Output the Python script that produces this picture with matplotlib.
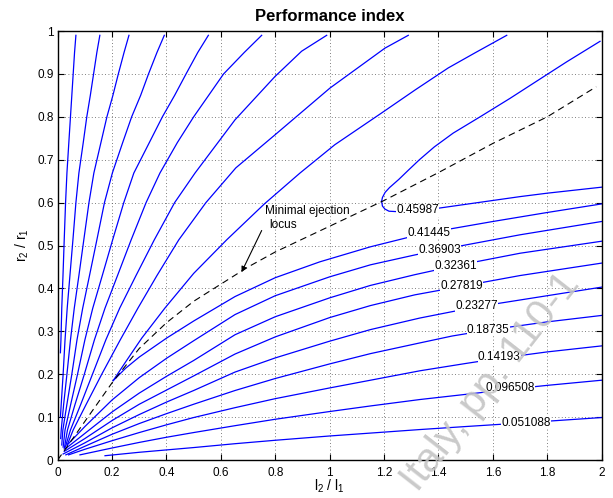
import matplotlib
matplotlib.use("Agg")
import matplotlib.pyplot as plt

plt.rcParams['font.family'] = ['Liberation Sans', 'DejaVu Sans']
plt.rcParams['mathtext.fontset'] = 'custom'
plt.rcParams['mathtext.rm'] = 'Liberation Sans'
plt.rcParams['mathtext.it'] = 'Liberation Sans'

# contour levels (labelled values)
levels = [0.051088, 0.096508, 0.14193, 0.18735, 0.23277,
          0.27819, 0.32361, 0.36903, 0.41445, 0.45987]
level_labels = ["0.051088", "0.096508", "0.14193", "0.18735", "0.23277",
                "0.27819", "0.32361", "0.36903", "0.41445", "0.45987"]

# upper branches (x, y), top -> origin side
upper_x = [
    [0.067, 0.062, 0.057, 0.052, 0.047, 0.041, 0.034, 0.029, 0.024, 0.0195, 0.015, 0.012, 0.010],
    [0.155, 0.144, 0.132, 0.120, 0.107, 0.094, 0.078, 0.067, 0.056, 0.045, 0.035, 0.027, 0.020, 0.013, 0.010],
    [0.262, 0.244, 0.223, 0.203, 0.181, 0.159, 0.133, 0.115, 0.096, 0.078, 0.061, 0.047, 0.034, 0.022, 0.013, 0.011],
    [0.392, 0.365, 0.334, 0.305, 0.272, 0.239, 0.201, 0.172, 0.144, 0.117, 0.092, 0.071, 0.052, 0.034, 0.019, 0.015],
    [0.554, 0.515, 0.472, 0.430, 0.385, 0.337, 0.280, 0.243, 0.202, 0.164, 0.129, 0.100, 0.073, 0.048, 0.027, 0.020],
    [0.750, 0.686, 0.610, 0.555, 0.500, 0.440, 0.376, 0.325, 0.270, 0.220, 0.174, 0.135, 0.098, 0.064, 0.036, 0.024],
    [0.989, 0.897, 0.799, 0.652, 0.505, 0.430, 0.355, 0.288, 0.228, 0.177, 0.128, 0.085, 0.047, 0.028],
    [1.289, 1.203, 1.001, 0.799, 0.655, 0.545, 0.445, 0.365, 0.295, 0.230, 0.162, 0.105, 0.057, 0.035],
    [1.651, 1.534, 1.436, 1.315, 1.191, 1.019, 0.891, 0.760, 0.621, 0.500, 0.394, 0.309, 0.247, 0.204],
    [1.994, 1.871, 1.773, 1.663, 1.553, 1.454, 1.385, 1.330, 1.290, 1.254, 1.220, 1.204, 1.194, 1.191],
]
upper_y = [
    [0.990, 0.950, 0.900, 0.850, 0.800, 0.740, 0.669, 0.600, 0.513, 0.430, 0.354, 0.280, 0.250],
    [0.990, 0.950, 0.900, 0.850, 0.800, 0.740, 0.669, 0.600, 0.513, 0.430, 0.354, 0.280, 0.200, 0.130, 0.100],
    [0.990, 0.950, 0.900, 0.850, 0.800, 0.740, 0.669, 0.600, 0.513, 0.430, 0.354, 0.280, 0.200, 0.130, 0.070, 0.050],
    [0.990, 0.950, 0.900, 0.850, 0.800, 0.740, 0.669, 0.600, 0.513, 0.430, 0.354, 0.280, 0.200, 0.130, 0.070, 0.035],
    [0.990, 0.950, 0.900, 0.850, 0.800, 0.740, 0.669, 0.600, 0.513, 0.430, 0.354, 0.280, 0.200, 0.130, 0.070, 0.030],
    [0.990, 0.950, 0.900, 0.850, 0.800, 0.740, 0.669, 0.600, 0.513, 0.430, 0.354, 0.280, 0.200, 0.130, 0.070, 0.026],
    [0.990, 0.953, 0.894, 0.793, 0.669, 0.600, 0.513, 0.430, 0.354, 0.280, 0.200, 0.130, 0.070, 0.030],
    [0.990, 0.960, 0.867, 0.758, 0.681, 0.600, 0.513, 0.430, 0.354, 0.280, 0.200, 0.130, 0.070, 0.035],
    [0.990, 0.949, 0.914, 0.863, 0.809, 0.735, 0.669, 0.597, 0.513, 0.435, 0.354, 0.284, 0.226, 0.185],
    [0.976, 0.928, 0.888, 0.843, 0.800, 0.762, 0.730, 0.700, 0.676, 0.654, 0.635, 0.624, 0.612, 0.603],
]

# lower branches (x, y), origin side -> right edge
lower_x = [
    [0.174, 0.300, 0.500, 0.652, 0.800, 1.000, 1.200, 1.332, 1.500, 1.721, 2.000],
    [0.082, 0.200, 0.300, 0.400, 0.500, 0.652, 0.800, 1.000, 1.150, 1.332, 1.500, 1.663, 1.800, 2.000],
    [0.040, 0.100, 0.200, 0.300, 0.400, 0.500, 0.652, 0.800, 1.000, 1.150, 1.332, 1.500, 1.623, 1.800, 2.000],
    [0.030, 0.100, 0.200, 0.300, 0.400, 0.500, 0.652, 0.800, 1.000, 1.150, 1.332, 1.450, 1.583, 1.800, 2.000],
    [0.020, 0.100, 0.200, 0.300, 0.400, 0.500, 0.652, 0.800, 1.000, 1.150, 1.332, 1.540, 1.800, 2.000],
    [0.024, 0.100, 0.200, 0.300, 0.400, 0.500, 0.652, 0.800, 1.000, 1.150, 1.313, 1.485, 1.700, 2.000],
    [0.028, 0.100, 0.200, 0.300, 0.400, 0.500, 0.652, 0.800, 1.000, 1.150, 1.313, 1.464, 1.700, 2.000],
    [0.035, 0.100, 0.200, 0.300, 0.400, 0.500, 0.652, 0.800, 1.000, 1.150, 1.313, 1.405, 1.700, 2.000],
    [0.204, 0.250, 0.300, 0.400, 0.500, 0.652, 0.800, 0.964, 1.150, 1.289, 1.365, 1.600, 1.800, 2.000],
    [1.191, 1.194, 1.203, 1.218, 1.246, 1.300, 1.400, 1.500, 1.600, 1.700, 1.800, 1.900, 2.000],
]
lower_y = [
    [0.010, 0.018, 0.029, 0.038, 0.046, 0.056, 0.065, 0.071, 0.078, 0.087, 0.099],
    [0.012, 0.028, 0.041, 0.053, 0.064, 0.080, 0.095, 0.113, 0.126, 0.141, 0.153, 0.165, 0.174, 0.186],
    [0.012, 0.025, 0.045, 0.064, 0.082, 0.099, 0.122, 0.143, 0.168, 0.186, 0.208, 0.225, 0.237, 0.252, 0.266],
    [0.012, 0.032, 0.060, 0.085, 0.108, 0.130, 0.162, 0.190, 0.224, 0.248, 0.273, 0.289, 0.303, 0.322, 0.337],
    [0.014, 0.040, 0.075, 0.106, 0.135, 0.162, 0.205, 0.238, 0.277, 0.304, 0.331, 0.357, 0.383, 0.403],
    [0.020, 0.050, 0.092, 0.130, 0.163, 0.196, 0.247, 0.287, 0.332, 0.360, 0.385, 0.405, 0.430, 0.459],
    [0.026, 0.062, 0.112, 0.156, 0.195, 0.232, 0.292, 0.334, 0.378, 0.407, 0.432, 0.453, 0.482, 0.510],
    [0.035, 0.078, 0.140, 0.192, 0.237, 0.278, 0.339, 0.383, 0.427, 0.455, 0.478, 0.490, 0.525, 0.556],
    [0.185, 0.214, 0.240, 0.284, 0.324, 0.381, 0.425, 0.462, 0.497, 0.519, 0.530, 0.556, 0.577, 0.597],
    [0.603, 0.592, 0.585, 0.580, 0.579, 0.580, 0.587, 0.596, 0.605, 0.614, 0.622, 0.629, 0.636],
]

# label positions
label_x = [1.721, 1.663, 1.623, 1.583, 1.540, 1.485, 1.464, 1.405, 1.365, 1.323]
label_y = [0.087, 0.167, 0.239, 0.303, 0.358, 0.405, 0.453, 0.490, 0.530, 0.582]

# minimal ejection locus (dashed)
locus_x = [0.0, 0.1, 0.2, 0.3, 0.4, 0.5, 0.6, 0.7, 0.8, 1.0, 1.2, 1.4, 1.6, 1.8, 1.98]
locus_y = [0.0, 0.09, 0.18, 0.26, 0.32, 0.37, 0.41, 0.45, 0.485, 0.545, 0.605, 0.67, 0.738, 0.80, 0.87]

xticks = [0, 0.2, 0.4, 0.6, 0.8, 1, 1.2, 1.4, 1.6, 1.8, 2]
yticks = [0, 0.1, 0.2, 0.3, 0.4, 0.5, 0.6, 0.7, 0.8, 0.9, 1]

fig = plt.figure(figsize=(6.13, 4.98), dpi=100)
ax = fig.add_axes([0.0941, 0.0763, 0.8874, 0.8614])

for i in range(len(levels)):
    ax.plot(upper_x[i], upper_y[i], color='#0000ff', lw=0.9)
    ax.plot(lower_x[i], lower_y[i], color='#0000ff', lw=0.9)
    ax.text(label_x[i], label_y[i], level_labels[i], fontsize=8.5,
            ha='center', va='center', zorder=5,
            bbox=dict(facecolor='white', edgecolor='none', pad=0.2))

ax.plot(locus_x, locus_y, color='black', lw=0.8, dashes=(6, 4))

ax.text(0.762, 0.58, "Minimal ejection", fontsize=8.5, ha='left', va='center')
ax.text(0.778, 0.547, "locus", fontsize=8.5, ha='left', va='center')
ax.annotate("", xy=(0.676, 0.438), xytext=(0.75, 0.535),
            arrowprops=dict(arrowstyle='-|>', color='black', lw=0.8,
                            mutation_scale=8, shrinkA=0, shrinkB=0))

ax.set_xlim(0, 2)
ax.set_ylim(0, 1)
ax.set_xticks(xticks)
ax.set_yticks(yticks)
ax.set_xticklabels(["0", "0.2", "0.4", "0.6", "0.8", "1", "1.2", "1.4", "1.6", "1.8", "2"])
ax.set_yticklabels(["0", "0.1", "0.2", "0.3", "0.4", "0.5", "0.6", "0.7", "0.8", "0.9", "1"])
ax.tick_params(direction='in', top=True, right=True, labelsize=8.5, length=4, width=0.8)
ax.tick_params(axis='x', pad=5)
ax.tick_params(axis='y', pad=3)
ax.grid(True, color='#555555', linestyle=(0, (1, 3)), lw=0.6)
for s in ax.spines.values():
    s.set_linewidth(1.0)

ax.set_title("Performance index", fontsize=12, fontweight='bold', pad=7.5)
ax.set_xlabel(r"$\mathregular{l_2\ /\ l_1}$", fontsize=10, labelpad=-1)
ax.set_ylabel(r"$\mathregular{r_2\ /\ r_1}$", fontsize=10, labelpad=4)

fig.text(0.682, 0.010, "Italy, pp. 110-1", fontsize=29.5, color='#c4c4c4',
         alpha=0.9, rotation=52, rotation_mode='anchor',
         ha='left', va='baseline', zorder=10)

fig.savefig("out.png", dpi=100)
